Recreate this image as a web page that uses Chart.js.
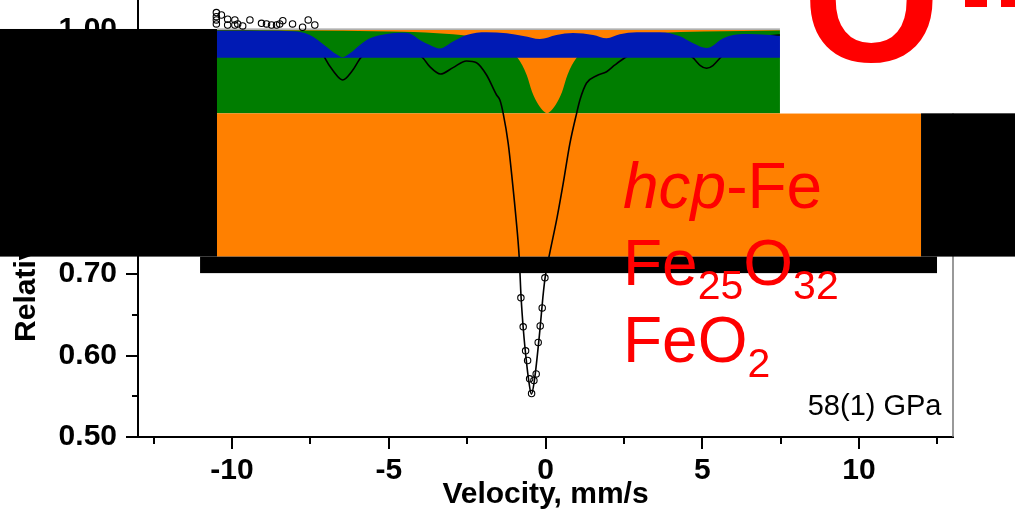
<!DOCTYPE html>
<html>
<head>
<meta charset="utf-8">
<script src="https://cdn.jsdelivr.net/npm/chart.js@4.4.1/dist/chart.umd.min.js"></script>
<style>
  html, body { margin: 0; padding: 0; background: #fff; }
  canvas { display: block; }
</style>
</head>
<body>
<canvas id="spectrum" width="1015" height="515"></canvas>
<script>
// measured points (velocity in mm/s, relative intensity)
const pointVel = [-10.50, -10.50, -10.50, -10.50, -10.34, -10.14, -10.14, -9.91, -9.91, -9.82, -9.66, -9.43,
    -9.06, -8.90, -8.74, -8.58, -8.48, -8.38, -8.07, -7.75, -7.57, -7.36,
    -0.785, -0.712, -0.635, -0.571, -0.507, -0.444, -0.370, -0.297, -0.233, -0.169, -0.105, -0.019];
const pointVal = [1.0213, 1.0163, 1.0123, 1.0074, 1.0184, 1.0132, 1.0061, 1.0123, 1.0061, 1.0074, 1.0049, 1.0123,
    1.0082, 1.0074, 1.0061, 1.0061, 1.0074, 1.0114, 1.0074, 1.0033, 1.0123, 1.0061,
    0.6709, 0.6353, 0.6058, 0.5940, 0.5714, 0.5534, 0.5694, 0.5775, 0.6161, 0.6365, 0.6586, 0.6955];

// total fit
const fitVel = [-10.6, -9.5, -8.5, -7.97, -7.47, -7.2, -7.04, -6.77, -6.47, -6.17, -5.90, -5.6, -5.2, -4.8, -4.4,
    -4.15, -3.91, -3.69, -3.35, -2.95, -2.52, -2.2, -1.88, -1.56, -1.455, -1.35, -1.19, -1.05, -0.945, -0.839,
    -0.779, -0.705, -0.603, -0.536, -0.45, -0.354, -0.179, -0.083, -0.01, 0.109, 0.373, 0.565, 0.779, 0.993,
    1.098, 1.31, 1.63, 1.95, 2.215, 2.53, 3.0, 3.5, 4.0, 4.4, 4.71, 4.94, 5.14, 5.34, 5.57, 5.85, 6.35, 7.0,
    8.0, 9.5, 10.6];
const fitVal = [0.998, 0.998, 0.996, 0.994, 0.9895, 0.980, 0.9656, 0.9495, 0.9385, 0.9495, 0.9656, 0.976, 0.984, 0.987, 0.980,
    0.973, 0.9656, 0.9549, 0.9459, 0.9537, 0.9619, 0.9598, 0.9447, 0.9201, 0.9140, 0.8976, 0.8607, 0.8116, 0.7705, 0.7209,
    0.6718, 0.6312, 0.5907, 0.5697, 0.5525, 0.5697, 0.6312, 0.6718, 0.6964, 0.7209, 0.7705, 0.8116, 0.8607, 0.8976,
    0.9140, 0.9348, 0.9438, 0.9487, 0.9570, 0.9659, 0.976, 0.982, 0.980, 0.9745, 0.9656, 0.9563, 0.9529, 0.9563, 0.9656, 0.9757, 0.987, 0.992,
    0.995, 0.997, 0.998];

// singlet subspectrum (orange)
const singletVel = [-10.48, -7.95, -4.95, -3.45, -2.45, -1.75, -1.25, -0.88, -0.60, -0.43, -0.22, -0.02,
    0.05, 0.12, 0.32, 0.53, 0.70, 0.98, 1.35, 1.85, 2.55, 3.55, 5.05, 7.48];
const singletVal = [0.9995, 0.9993, 0.998, 0.996, 0.9925, 0.987, 0.978, 0.9652, 0.9447, 0.9242, 0.9078, 0.8988,
    0.8976, 0.8988, 0.9078, 0.9242, 0.9447, 0.9652, 0.978, 0.987, 0.9925, 0.996, 0.998, 0.9992];

// sextet subspectrum (blue)
const sextetVel = [-10.48, -9.0, -8.06, -7.52, -6.99, -6.67, -6.47, -6.24, -5.92, -5.6, -5.07, -4.6, -4.33, -4.01, -3.69,
    -3.37, -2.95, -2.52, -1.88, -1.24, -0.71, -0.18, 0.35, 0.88, 1.52, 1.95, 2.37, 2.91, 3.65, 4.29, 4.71, 5.14,
    5.67, 5.99, 6.42, 7.06, 7.48];
const sextetVal = [0.9991, 0.9991, 0.9985, 0.9939, 0.9795, 0.9701, 0.9664, 0.9713, 0.9816, 0.9898, 0.9951, 0.9965, 0.9955, 0.9877, 0.9816,
    0.9772, 0.9857, 0.9939, 0.9972, 0.9959, 0.9926, 0.9889, 0.9939, 0.9963, 0.9939, 0.9898, 0.9947, 0.9972, 0.9972, 0.9922, 0.9836, 0.9777,
    0.9898, 0.9939, 0.9951, 0.9942, 0.9926];

const xTickValues = [-10, -5, 0, 5, 10];
const xMinorTicks = [-12.5, -7.5, -2.5, 2.5, 7.5, 12.5];
const yTickValues = [0.5, 0.6, 0.7, 0.8, 0.9, 1.0];
const yMinorTicks = [0.55, 0.65, 0.75, 0.85, 0.95];

const ORANGE = '#ff8000';
const GREEN = '#007d00';
const BLUE = '#001ab4';
const RED = '#ff0000';
const FONT = 'Arial, "Liberation Sans", Helvetica, sans-serif';

Chart.defaults.font.family = FONT;
Chart.defaults.color = '#000';

function toXY(xs, ys) {
    return xs.map((v, i) => ({ x: v, y: ys[i] }));
}

function fillBox(chart, x0, x1, y0, y1, color) {
    const { ctx, scales: { x, y } } = chart;
    const px0 = x.getPixelForValue(x0), px1 = x.getPixelForValue(x1);
    const py0 = y.getPixelForValue(y0), py1 = y.getPixelForValue(y1);
    ctx.fillStyle = color;
    ctx.fillRect(Math.min(px0, px1), Math.min(py0, py1), Math.abs(px1 - px0), Math.abs(py1 - py0));
}

function drawFormula(ctx, x, baseline, parts) {
    let cx = x;
    parts.forEach(([text, size, dy, style]) => {
        ctx.font = (style || '') + ' ' + size + 'px ' + FONT;
        ctx.fillText(text, cx, baseline + dy);
        cx += ctx.measureText(text).width;
    });
}

const overlayPlugin = {
    id: 'overlay',
    beforeDatasetsDraw(chart) {
        const { ctx, scales: { x, y } } = chart;
        ctx.save();
        fillBox(chart, -10.48, 7.48, 0.8976, 1.0, GREEN);
        fillBox(chart, -10.48, 11.98, 0.7216, 0.8976, ORANGE);
        // thin grey baseline along the top of the green band
        ctx.strokeStyle = '#999';
        ctx.lineWidth = 1.2;
        ctx.beginPath();
        ctx.moveTo(x.getPixelForValue(-10.48), y.getPixelForValue(1.001));
        ctx.lineTo(x.getPixelForValue(7.48), y.getPixelForValue(1.001));
        ctx.stroke();
        ctx.restore();
    },
    afterDraw(chart) {
        const { ctx, chartArea, scales: { x, y } } = chart;
        ctx.save();

        // tick marks
        ctx.strokeStyle = '#000';
        ctx.lineWidth = 2;
        const xTick = (v, len) => {
            const px = Math.round(x.getPixelForValue(v));
            ctx.beginPath();
            ctx.moveTo(px, chartArea.bottom);
            ctx.lineTo(px, chartArea.bottom + len);
            ctx.stroke();
        };
        const yTick = (v, len) => {
            const py = Math.round(y.getPixelForValue(v));
            ctx.beginPath();
            ctx.moveTo(chartArea.left, py);
            ctx.lineTo(chartArea.left - len, py);
            ctx.stroke();
        };
        xTickValues.forEach(v => xTick(v, 12));
        xMinorTicks.forEach(v => xTick(v, 7));
        yTickValues.forEach(v => yTick(v, 12));
        yMinorTicks.forEach(v => yTick(v, 6));

        // right frame
        ctx.strokeStyle = '#777';
        ctx.lineWidth = 1.5;
        ctx.beginPath();
        ctx.moveTo(chartArea.right, chartArea.top);
        ctx.lineTo(chartArea.right, chartArea.bottom);
        ctx.stroke();

        // cover boxes
        fillBox(chart, 7.48, 20, 0.8976, 1.2, '#fff');
        fillBox(chart, -20, -10.48, 0.7216, 1.0012, '#000');
        fillBox(chart, -11.02, 12.49, 0.7013, 0.7216, '#000');
        fillBox(chart, 11.98, 20, 0.7216, 0.8976, '#000');

        // red labels
        ctx.fillStyle = RED;
        ctx.textAlign = 'left';
        ctx.textBaseline = 'alphabetic';
        drawFormula(ctx, 623, 208, [['hcp', 64, 0, 'italic'], ['-Fe', 64, 0]]);
        drawFormula(ctx, 623, 285, [['Fe', 64, 0], ['25', 41, 14], ['O', 64, 0], ['32', 41, 14]]);
        drawFormula(ctx, 623, 362, [['Fe', 64, 0], ['O', 64, 0], ['2', 41, 15]]);

        ctx.font = 'bold 176px ' + FONT;
        ctx.fillText('O', 803, 61);
        ctx.fillRect(965, 0, 22, 7);
        ctx.fillRect(1001, 0, 14, 7);

        // pressure label
        ctx.fillStyle = '#000';
        ctx.font = '29px ' + FONT;
        ctx.textAlign = 'right';
        ctx.fillText('58(1) GPa', 941.5, 415);

        ctx.restore();
    }
};

new Chart(document.getElementById('spectrum'), {
    type: 'line',
    data: {
        datasets: [
            {
                label: 'sextet',
                data: toXY(sextetVel, sextetVal),
                borderWidth: 0,
                backgroundColor: BLUE,
                fill: { value: 0.9658 },
                pointRadius: 0,
                tension: 0.4,
                cubicInterpolationMode: 'monotone',
                order: 0
            },
            {
                label: 'data',
                data: toXY(pointVel, pointVal),
                showLine: false,
                pointRadius: 3.2,
                pointBorderWidth: 1.1,
                pointBorderColor: '#000',
                pointBackgroundColor: 'rgba(255,255,255,0)',
                order: 1
            },
            {
                label: 'fit',
                data: toXY(fitVel, fitVal),
                borderColor: '#000',
                borderWidth: 1.6,
                pointRadius: 0,
                fill: false,
                tension: 0.4,
                cubicInterpolationMode: 'monotone',
                order: 2
            },
            {
                label: 'singlet',
                data: toXY(singletVel, singletVal),
                borderWidth: 0,
                backgroundColor: ORANGE,
                fill: { value: 1.0 },
                pointRadius: 0,
                tension: 0.4,
                cubicInterpolationMode: 'monotone',
                order: 3
            }
        ]
    },
    options: {
        responsive: false,
        animation: false,
        events: [],
        layout: { autoPadding: false, padding: { left: 0, right: 62, top: 0, bottom: 0 } },
        plugins: {
            legend: { display: false },
            tooltip: { enabled: false }
        },
        scales: {
            x: {
                type: 'linear',
                min: -13,
                max: 13,
                grid: { display: false, drawTicks: false },
                border: { display: true, color: '#000', width: 2 },
                afterBuildTicks: s => { s.ticks = xTickValues.map(v => ({ value: v })); },
                afterFit: s => { s.height = 78; s.paddingLeft = 0; s.paddingRight = 0; },
                ticks: {
                    padding: 16,
                    font: { size: 30, weight: 'bold' },
                    callback: v => String(v)
                },
                title: {
                    display: true,
                    text: 'Velocity, mm/s',
                    font: { size: 30, weight: 'bold' },
                    padding: { top: 0, bottom: 2 }
                }
            },
            y: {
                min: 0.5,
                max: 1.0368,
                grid: { display: false, drawTicks: false },
                border: { display: true, color: '#000', width: 2 },
                afterBuildTicks: s => { s.ticks = yTickValues.map(v => ({ value: v })); },
                afterFit: s => { s.width = 138; s.paddingTop = 0; s.paddingBottom = 0; },
                ticks: {
                    padding: 21,
                    font: { size: 30, weight: 'bold' },
                    callback: v => Number(v).toFixed(2)
                },
                title: {
                    display: true,
                    text: 'Relative intensity',
                    font: { size: 30, weight: 'bold' },
                    padding: { top: 9, bottom: 0 }
                }
            }
        }
    },
    plugins: [overlayPlugin]
});
</script>
</body>
</html>
